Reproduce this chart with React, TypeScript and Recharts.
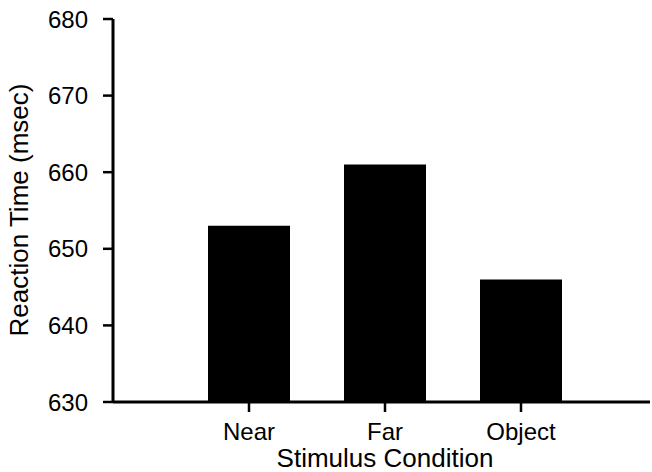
import { BarChart, Bar, XAxis, YAxis, Label } from "recharts"

const conditions = ["Near", "Far", "Object"]
const reactionTimes = [653, 661, 646]
const yTicks = [630, 640, 650, 660, 670, 680]

const data = conditions.map((name, i) => ({ name, rt: reactionTimes[i] }))

const font = "'Liberation Sans', Arial, sans-serif"

export default function App() {
  return (
    <div style={{ position: "absolute", left: 0, top: 0, background: "#fff" }}>
      <BarChart
        width={652}
        height={472}
        data={data}
        margin={{ top: 19, right: 2, bottom: 0, left: 0 }}
        style={{ fontFamily: font }}
      >
        <XAxis
          dataKey="name"
          height={70}
          padding={{ left: 68, right: 61 }}
          axisLine={{ stroke: "#000", strokeWidth: 3 }}
          tickLine={{ stroke: "#000", strokeWidth: 2.5 }}
          tickSize={10}
          tickMargin={11}
          tick={{ fill: "#000", fontSize: 24, fontFamily: font }}
        >
          <Label
            content={() => (
              <text x={385} y={467} textAnchor="middle" fontSize={26} fill="#000" fontFamily={font}>
                Stimulus Condition
              </text>
            )}
          />
        </XAxis>
        <YAxis
          width={113}
          domain={[630, 680]}
          ticks={yTicks}
          allowDataOverflow
          axisLine={{ stroke: "#000", strokeWidth: 3 }}
          tickLine={{ stroke: "#000", strokeWidth: 2.5 }}
          tickSize={10}
          tickMargin={15}
          tick={{ fill: "#000", fontSize: 24, fontFamily: font }}
        >
          <Label
            content={() => (
              <text
                x={28}
                y={210}
                transform="rotate(-90 28 210)"
                textAnchor="middle"
                fontSize={26}
                fill="#000"
                fontFamily={font}
              >
                Reaction Time (msec)
              </text>
            )}
          />
        </YAxis>
        <Bar dataKey="rt" fill="#000" barSize={82} isAnimationActive={false} />
      </BarChart>
    </div>
  )
}
